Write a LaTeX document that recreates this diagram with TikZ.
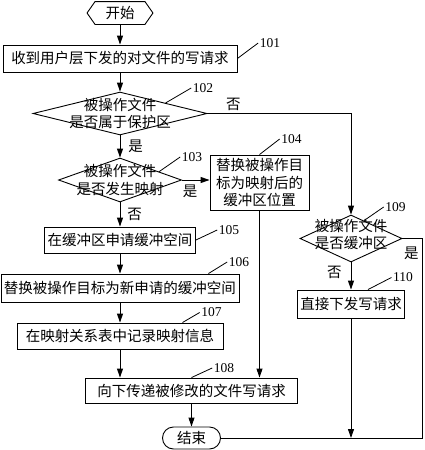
\documentclass[tikz,border=0pt]{standalone}
\usepackage{fontspec}
\setmainfont{Liberation Serif}
\newfontfamily\cjk{Noto Sans CJK SC}
\usepackage{tikz}
\usetikzlibrary{shapes.geometric, arrows.meta}
\tikzstyle{box} = [rectangle, draw=black, line width=0.9pt, inner sep=0pt, text centered, align=center, font=\cjk\fontsize{14.5}{17.5}\selectfont]
\tikzstyle{term} = [rectangle, line width=0.9pt, inner sep=0pt, minimum height=22pt, font=\cjk\fontsize{14.5}{17.5}\selectfont]
\tikzstyle{decision} = [diamond, draw=black, line width=0.9pt, inner sep=0pt]
\tikzstyle{dtext} = [inner sep=0pt, align=center, font=\cjk\fontsize{14.5}{17.5}\selectfont]
\tikzstyle{lbl} = [inner sep=2pt, font=\cjk\fontsize{14.5}{17.5}\selectfont]
\tikzstyle{num} = [inner sep=1.5pt, font=\fontsize{13.5}{15}\selectfont]
\tikzstyle{arrow} = [line width=0.9pt,->,>={Triangle[length=9pt,width=6pt]}]
\tikzstyle{line} = [line width=0.9pt]
\tikzstyle{tick} = [line width=0.8pt]

\begin{document}
\begin{tikzpicture}[node distance=50pt]
            \useasboundingbox (0,0) rectangle (424pt,-450pt);
            \node(start) [term, minimum width=65pt] at (120pt,-13pt) {开始};
            \draw[line] (start.west) -- ([xshift=8pt]start.north west) -- ([xshift=-8pt]start.north east) -- (start.east)
                -- ([xshift=-8pt]start.south east) -- ([xshift=8pt]start.south west) -- cycle;
            \node(n101) [box, minimum width=234pt, minimum height=27pt, below of=start, yshift=4.5pt] {收到用户层下发的对文件的写请求};
            \node(d102) [decision, minimum width=174pt, minimum height=43pt, below of=n101, yshift=-5pt] {};
            \node(t102) [dtext] at (d102) {被操作文件\\是否属于保护区};
            \node(d103) [decision, minimum width=123pt, minimum height=44pt, below of=d102, yshift=-16.5pt] {};
            \node(t103) [dtext] at (d103) {被操作文件\\是否发生映射};
            \node(n104) [box, minimum width=99pt, minimum height=55pt, right of=d103, xshift=89.5pt, yshift=-2.5pt] {替换被操作目\\标为映射后的\\缓冲区位置};
            \node(n105) [box, minimum width=151pt, minimum height=26pt, below of=d103, yshift=-10pt] {在缓冲区申请缓冲空间};
            \node(n106) [box, minimum width=238pt, minimum height=28pt, below of=n105, yshift=2pt] {替换被操作目标为新申请的缓冲空间};
            \node(n107) [box, minimum width=206pt, minimum height=26pt, below of=n106, yshift=2pt] {在映射关系表中记录映射信息};
            \node(n108) [box, minimum width=212pt, minimum height=25pt, below of=n107, xshift=71.5pt, yshift=-4.5pt] {向下传递被修改的文件写请求};
            \node(stop) [term, draw=black, rounded corners=11pt, minimum width=58pt, below of=n108, yshift=2.5pt] {结束};
            \node(d109) [decision, minimum width=102pt, minimum height=47pt, right of=n105, xshift=181pt, yshift=1.5pt] {};
            \node(t109) [dtext, yshift=4pt] at (d109) {被操作文件\\是否缓冲区};
            \node(n110) [box, minimum width=107pt, minimum height=28pt, below of=d109, yshift=-15.5pt] {直接下发写请求};
            \node(right109) [coordinate, right of=d109, xshift=21pt] {};

            \node(l101) [num, right of=n101, xshift=100pt, yshift=15.5pt] {101};
            \node(l102) [num, right of=d102, xshift=33pt, yshift=25.5pt] {102};
            \node(l103) [num, right of=d103, xshift=22pt, yshift=23pt] {103};
            \node(l104) [num, right of=n104, xshift=-18pt, yshift=43.5pt] {104};
            \node(l105) [num, right of=n105, xshift=59pt, yshift=10pt] {105};
            \node(l106) [num, right of=n106, xshift=69pt, yshift=26pt] {106};
            \node(l107) [num, right of=n107, xshift=41.5pt, yshift=23.5pt] {107};
            \node(l108) [num, right of=n108, xshift=-17.5pt, yshift=22.5pt] {108};
            \node(l109) [num, right of=d109, xshift=-5.5pt, yshift=31.5pt] {109};
            \node(l110) [num, right of=n110, xshift=2pt, yshift=26.5pt] {110};

            \draw[arrow] (start) -- (n101);
            \draw[arrow] (n101) -- (d102);
            \draw[arrow] (d102) -- node[lbl, right, xshift=6pt]{是} (d103);
            \draw[arrow] (d102) -| node[lbl, above, pos=0.09]{否} (d109);
            \draw[arrow] (d103) -- node[lbl, below, pos=0.3, yshift=-2pt]{是} (d103 -| n104.west);
            \draw[arrow] (d103) -- node[lbl, right, xshift=5pt]{否} (n105);
            \draw[arrow] (n105) -- (n106);
            \draw[arrow] (n106) -- (n107);
            \draw[arrow] (n107) -- (n107 |- n108.north);
            \draw[arrow] (n104) -- (n104 |- n108.north);
            \draw[arrow] (n108) -- (stop);
            \draw[arrow] (d109) -- node[lbl, left, xshift=-7pt, yshift=3.5pt]{否} (n110);
            \draw[line] (d109) -- node[lbl, below, pos=0.45, yshift=-6pt]{是} (right109) |- (stop);
            \draw[arrow] (n110) -- (n110 |- stop);

            \draw[tick] (n101.east) -- (l101.west);
            \draw[tick] (d102.13) -- (l102.west);
            \draw[tick] (d103.12) -- (l103.west);
            \draw[tick] (n104.north) -- (l104.west);
            \draw[tick] (n105.east) -- (l105.west);
            \draw[tick] ([xshift=-31pt]n106.north east) -- (l106.west);
            \draw[tick] ([xshift=-41pt]n107.north east) -- (l107.west);
            \draw[tick] (n108.north) -- (l108.west);
            \draw[tick] (d109.54) -- (l109.west);
            \draw[tick] ([xshift=17pt]n110.north) -- (l110.west);
        \end{tikzpicture}
\end{document}
